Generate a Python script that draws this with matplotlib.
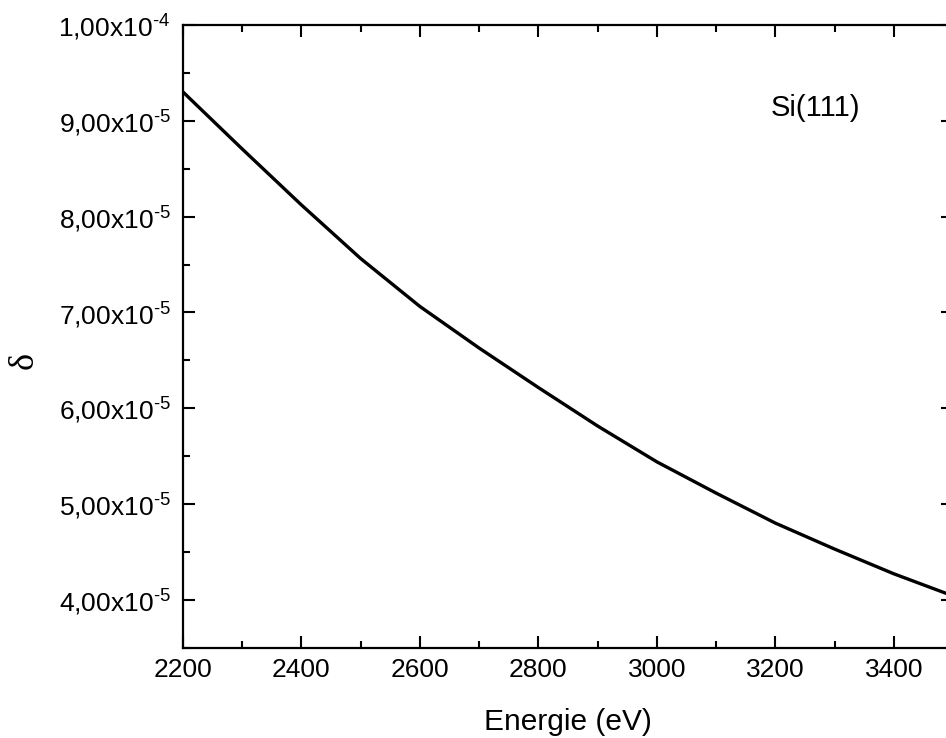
import matplotlib
matplotlib.use('Agg')
import matplotlib.pyplot as plt
from matplotlib.ticker import MultipleLocator, FuncFormatter

plt.rcParams['font.family'] = ['Liberation Sans', 'DejaVu Sans']
plt.rcParams['mathtext.fontset'] = 'custom'
plt.rcParams['mathtext.rm'] = 'Liberation Sans'
plt.rcParams['mathtext.it'] = 'Liberation Sans:italic'

# valores (energia em eV, delta)
energia = [2200, 2300, 2400, 2500, 2600, 2700, 2800, 2900, 3000,
           3100, 3200, 3300, 3400, 3500]
delta = [9.301e-5, 8.706e-5, 8.122e-5, 7.563e-5, 7.063e-5, 6.629e-5,
         6.217e-5, 5.816e-5, 5.442e-5, 5.116e-5, 4.803e-5, 4.532e-5,
         4.274e-5, 4.043e-5]

fig = plt.figure(figsize=(9.46, 7.38), dpi=100)
ax = fig.add_axes([0.1934, 0.1220, 0.814, 0.8442])

ax.plot(energia, delta, color='black', linewidth=2.4)

ax.set_xlim(2200, 3500)
ax.set_ylim(3.5e-5, 1.0e-4)

ax.xaxis.set_major_locator(MultipleLocator(200))
ax.xaxis.set_minor_locator(MultipleLocator(100))
ax.yaxis.set_major_locator(MultipleLocator(1e-5))
ax.yaxis.set_minor_locator(MultipleLocator(0.5e-5))


def fmt_y(v, pos):
    exp = -4 if v >= 0.99e-4 else -5
    mant = v / 10.0 ** exp
    return ('%.2f' % mant).replace('.', ',') + 'x10$^{\\text{%d}}$' % exp


ax.yaxis.set_major_formatter(FuncFormatter(fmt_y))

for s in ax.spines.values():
    s.set_linewidth(1.6)

ax.tick_params(which='both', direction='in', top=True, right=True,
               width=1.5, labelsize=19)
ax.tick_params(which='major', length=8.5)
ax.tick_params(which='minor', length=5)
ax.tick_params(axis='y', pad=9)
ax.tick_params(axis='x', pad=7)

ax.set_xlabel('Energie (eV)', fontsize=21.5)
ax.xaxis.set_label_coords(0.5, -0.097)
ax.set_ylabel('δ', fontsize=26, family=['Liberation Serif', 'DejaVu Serif'])
ax.yaxis.set_label_coords(-0.185, 0.461)

ax.text(3267, 9.05e-5, 'Si(111)', fontsize=21, ha='center', va='baseline')

fig.savefig('out.png', dpi=100)
